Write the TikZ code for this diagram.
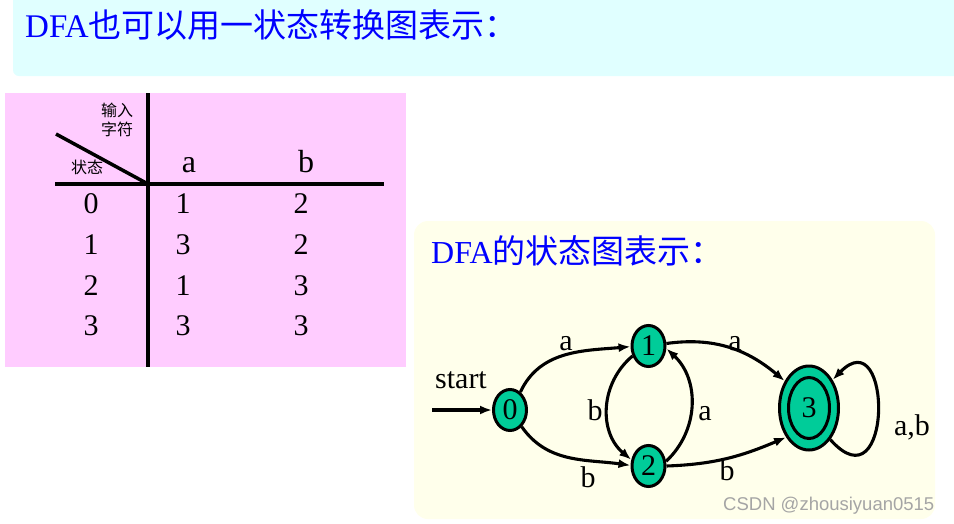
\documentclass[tikz,border=0pt]{standalone}
\usepackage{fontspec}
\setmainfont{Liberation Serif}
\newfontfamily\cjk{Noto Sans CJK SC}
\newfontfamily\wmfont{Liberation Sans}
\usetikzlibrary{shapes.geometric,arrows.meta}
\definecolor{cyanbg}{RGB}{224,255,255}
\definecolor{pinkbg}{RGB}{255,204,255}
\definecolor{yellowbg}{RGB}{255,255,235}
\definecolor{stategreen}{RGB}{0,204,153}
\definecolor{titleblue}{RGB}{0,0,255}
\definecolor{wmgray}{RGB}{165,165,165}
\begin{document}
\begin{tikzpicture}[x=1pt,y=1pt,
  state/.style={ellipse,draw=black,line width=3pt,fill=stategreen,minimum width=33pt,minimum height=41pt,inner sep=0pt,font=\fontsize{30}{30}\selectfont},
  edge/.style={line width=3.1pt,-{Latex[length=12pt,width=9pt]}},
  lbl/.style={anchor=base,inner sep=0pt,font=\fontsize{30}{30}\selectfont},
  tbl/.style={anchor=base,inner sep=0pt,font=\fontsize{30}{30}\selectfont},
  small/.style={inner sep=0pt,font=\cjk\fontsize{16}{16}\selectfont},
  rulestyle/.style={line width=4pt},
  title/.style={anchor=base west,inner sep=0pt,text=titleblue}
]
\useasboundingbox (0,0) rectangle (954,-523);
\clip (0,0) rectangle (954,-523);
\fill[white] (0,0) rectangle (954,-523);
% background panels
\fill[cyanbg,rounded corners=6pt] (13,10) rectangle (975,-76);
\fill[pinkbg] (5,-93) rectangle (406,-367);
\fill[yellowbg,rounded corners=14pt] (414,-221) rectangle (935,-519);
% titles
\node[title,font=\fontsize{33}{36}\selectfont] (t1) at (25,-37) {DFA{\cjk 也可以用一状态转换图表示：}};
\node[title,font=\fontsize{32}{34}\selectfont] (t2) at (431,-263) {DFA{\cjk\fontsize{33}{34}\selectfont 的状态图表示：}};
% table
\coordinate (vtop) at (148,-93);
\coordinate (vbot) at (148,-367);
\coordinate (hl) at (55,-184);
\coordinate (hr) at (384,-184);
\coordinate (dg) at (56,-134);
\coordinate (corner) at (148,-184);
\draw[rulestyle] (vtop) -- (vbot);
\draw[rulestyle] (hl) -- (hr);
\draw[line width=3.5pt] (dg) -- (corner);
\node[small] (in1) at (117,-110) {输入};
\node[small] (in2) at (117,-129) {字符};
\node[small] (zt) at (87,-167) {状态};
\node[tbl,font=\fontsize{32}{32}\selectfont] (ha) at (189,-172) {a};
\node[tbl,font=\fontsize{32}{32}\selectfont] (hb) at (306,-172) {b};
\node[tbl] (s0) at (91,-213) {0};
\node[tbl] (a0) at (183,-213) {1};
\node[tbl] (b0) at (301,-213) {2};
\node[tbl] (s1) at (91,-254) {1};
\node[tbl] (a1) at (183,-254) {3};
\node[tbl] (b1) at (301,-254) {2};
\node[tbl] (s2) at (91,-295) {2};
\node[tbl] (a2) at (183,-295) {1};
\node[tbl] (b2) at (301,-295) {3};
\node[tbl] (s3) at (91,-335) {3};
\node[tbl] (a3) at (183,-335) {3};
\node[tbl] (b3) at (301,-335) {3};
% graph
\node[state] (n0) at (510,-410) {0};
\node[state] (n1) at (648.5,-346) {1};
\node[state] (n2) at (648.5,-466) {2};
\node[state,minimum width=59pt,minimum height=84pt] (n3) at (809,-408) {};
\node[state,minimum width=41pt,minimum height=61pt] (n3i) at (809,-408) {3};
\coordinate (st) at (432,-410);
\draw[edge] (st) -- (n0);
\node[lbl] (startlbl) at (461,-388) {start};
\draw[edge] (n0.60) to[out=65,in=185] (n1.182);
\draw[edge] (n0.-55) to[out=-55,in=172] (n2.178);
\draw[edge] (n1.212) to[out=220,in=140,looseness=1.05] (n2.160);
\draw[edge] (n2.15) to[out=43,in=-43,looseness=1.03] (n1.-8);
\draw[edge] (n1.8) to[out=8,in=140] (n3.132);
\draw[edge] (n2.0) to[out=2,in=203] (n3.232);
\draw[edge] (n3.-56) .. controls (893,-510) and (893,-318) .. (n3.50);
\node[lbl] (la01) at (566,-350) {a};
\node[lbl] (lb02) at (588,-487) {b};
\node[lbl] (lb12) at (595,-420) {b};
\node[lbl] (la21) at (705,-420) {a};
\node[lbl] (la13) at (735,-350) {a};
\node[lbl] (lb23) at (727,-480) {b};
\node[lbl] (lab33) at (912,-435) {a,b};
% watermark
\node[anchor=base west,inner sep=0pt,font=\wmfont\fontsize{18.5}{18.5}\selectfont,text=wmgray] (wm) at (723,-510) {CSDN @zhousiyuan0515};
\end{tikzpicture}
\end{document}
